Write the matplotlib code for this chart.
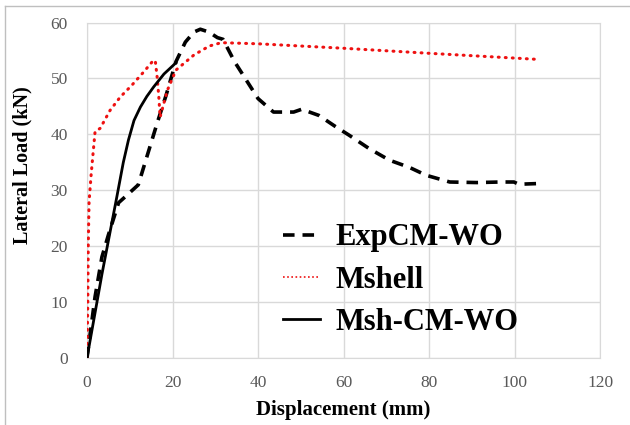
import numpy as np
import matplotlib.pyplot as plt
from matplotlib.lines import Line2D

# ExpCM-WO (experiment, dashed)
exp_x = [0, 1.9, 3.5, 5, 7.4, 9, 12, 14, 16.4, 18.5, 20.8, 23, 25, 26.5, 28.5,
         30.5, 31.8, 34.5, 37, 40, 43.6, 48.3, 50.2, 54.2, 58.1, 61.2, 65.9,
         70.7, 75.4, 79.3, 84.8, 91.1, 96.6, 99.8, 100.9, 106.4]
exp_y = [0, 11, 18.1, 22, 27.8, 28.9, 31, 36, 42, 47, 53, 56.5, 58.3, 58.8, 58.3,
         57.3, 57, 53, 50, 46.4, 44, 44, 44.5, 43.4, 41.4, 39.9, 37.5,
         35.4, 34.1, 32.7, 31.5, 31.4, 31.5, 31.5, 31.1, 31.25]

# Mshell (dotted red)
msh_x = [0, 0.2, 0.3, 0.5, 1, 1.5, 1.9, 3.1, 5.4, 7.8, 10.5, 13.3, 15.6, 16,
         16.4, 16.8, 17.1, 18.8, 20.8, 25, 28.6, 31.4, 40, 60, 80, 105.7]
msh_y = [0, 10, 20, 28, 33, 37.2, 40.5, 41.1, 44.3, 46.7, 48.8, 51.2, 53.3, 53,
         50.3, 46.7, 43.1, 47.9, 51.5, 54.2, 55.8, 56.4, 56.2, 55.4, 54.5, 53.4]

# Msh-CM-WO (solid black)
cm_x = [0, 3.5, 7, 8.5, 9.7, 11, 12.5, 14, 15.6, 18, 20.8]
cm_y = [0, 15, 28.9, 35, 39, 42.5, 44.9, 46.8, 48.5, 50.8, 52.8]

x_ticks = [0, 20, 40, 60, 80, 100, 120]
y_ticks = [0, 10, 20, 30, 40, 50, 60]

plt.rcParams['font.family'] = ['Liberation Serif', 'DejaVu Serif']

fig = plt.figure(figsize=(6.3, 4.25), dpi=100)
ax = fig.add_axes([0.138, 0.157, 0.815, 0.79])

dash = (0, (3.2, 2.2))
ax.plot(exp_x, exp_y, color='black', lw=2.6, linestyle=dash, label='ExpCM-WO', zorder=3)
ax.plot(msh_x, msh_y, color='#ee1111', lw=2.2, linestyle=(0, (0.3, 2.0)),
        dash_capstyle='round', label='Mshell', zorder=3)
ax.plot(cm_x, cm_y, color='black', lw=2, label='Msh-CM-WO', zorder=4)

ax.set_xlim(0, 120)
ax.set_ylim(0, 60)
ax.set_xticks(x_ticks)
ax.set_yticks(y_ticks)
ax.grid(True, color='#d9d9d9', lw=1)
ax.set_axisbelow(True)
for s in ax.spines.values():
    s.set_color('#d9d9d9')
ax.tick_params(length=0, labelsize=12.5, labelcolor='#595959')
ax.tick_params(axis='x', pad=12.3)
ax.tick_params(axis='y', pad=13.8)

ax.set_xlabel('Displacement (mm)', fontsize=15, fontweight='bold', labelpad=6)
ax.set_ylabel('Lateral Load (kN)', fontsize=14.5, fontweight='bold')
ax.yaxis.set_label_coords(-0.107, 0.575)

handles = [
    Line2D([], [], color='black', lw=2.6, linestyle=dash),
    Line2D([], [], color='#ee1111', lw=1.2, linestyle=(0, (1, 1.5))),
    Line2D([], [], color='black', lw=2),
]
ax.legend(handles, ['ExpCM-WO', 'Mshell', 'Msh-CM-WO'], loc='upper left',
          bbox_to_anchor=(0.329, 0.484), frameon=False, handlelength=1.2,
          handletextpad=0.5, labelspacing=0.44,
          prop={'family': 'Liberation Serif', 'weight': 'bold', 'size': 22})

# light frame around the figure
fig.add_artist(Line2D([5 / 630, 1], [1 - 6 / 425, 1 - 6 / 425], color='#bfbfbf', lw=1))
fig.add_artist(Line2D([5 / 630, 5 / 630], [0, 1 - 6 / 425], color='#bfbfbf', lw=1))

fig.savefig('out.png', dpi=100)
